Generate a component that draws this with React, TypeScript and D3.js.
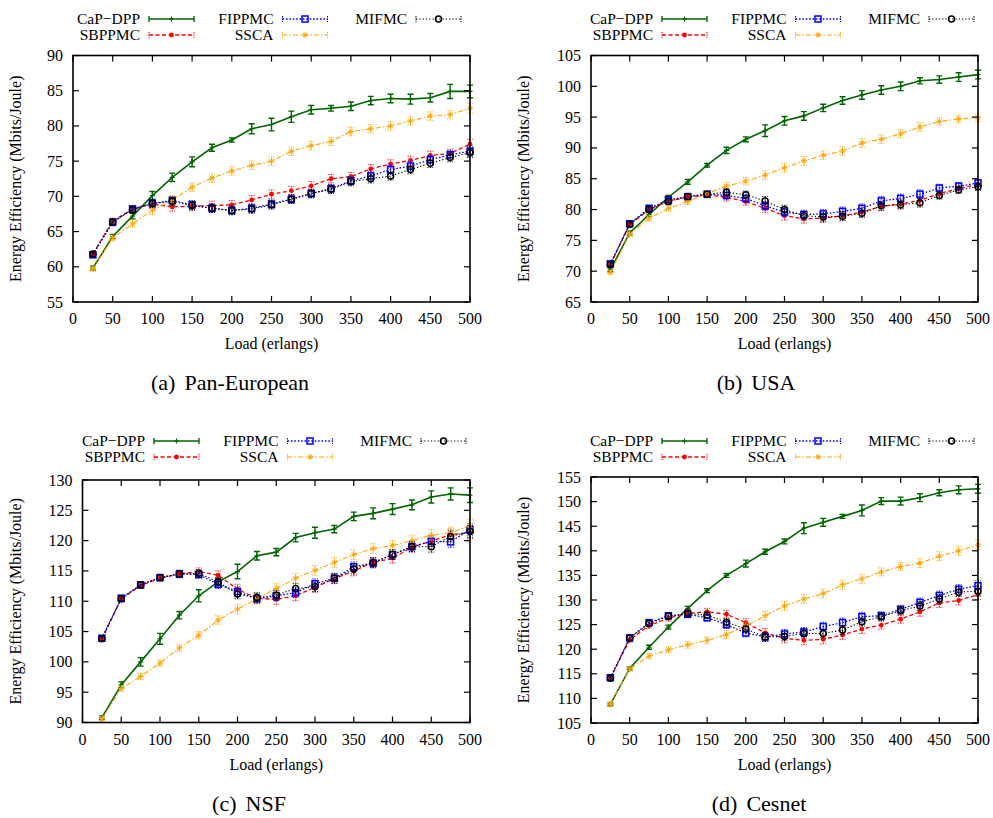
import React from 'react';
import * as d3 from 'd3';

// Offered load (erlangs)
const loads = [25, 50, 75, 100, 125, 150, 175, 200, 225, 250, 275, 300, 325, 350, 375, 400, 425, 450, 475, 500];
const xTicks = [0, 50, 100, 150, 200, 250, 300, 350, 400, 450, 500];

// (a) Pan-European
const panCapDpp = [59.8, 64.3, 67.2, 70.1, 72.7, 74.9, 76.9, 78.0, 79.6, 80.2, 81.3, 82.3, 82.5, 82.8, 83.6, 83.9, 83.8, 84.0, 84.9, 84.9];
const panSbppmc = [61.8, 66.5, 68.2, 68.9, 68.5, 68.6, 68.7, 68.8, 69.5, 70.3, 70.8, 71.5, 72.5, 72.8, 73.9, 74.6, 75.1, 75.8, 76.1, 77.4];
const panFippmc = [61.7, 66.3, 68.2, 69.0, 69.4, 68.8, 68.3, 68.0, 68.3, 68.9, 69.6, 70.4, 71.1, 72.2, 72.9, 73.8, 74.3, 75.2, 75.9, 76.4];
const panSsca = [59.7, 64.1, 66.1, 68.0, 69.5, 71.3, 72.6, 73.6, 74.4, 75.0, 76.4, 77.2, 77.8, 79.2, 79.6, 80.0, 80.7, 81.4, 81.6, 82.5];
const panMifmc = [61.8, 66.4, 68.1, 69.0, 69.3, 68.7, 68.3, 68.0, 68.2, 68.8, 69.6, 70.4, 71.0, 72.1, 72.5, 72.9, 73.8, 74.7, 75.5, 76.2];
const panCapErr = [0.3, 0.3, 0.4, 0.6, 0.6, 0.7, 0.5, 0.3, 0.7, 0.9, 0.8, 0.6, 0.4, 0.6, 0.6, 0.6, 0.7, 0.6, 1.0, 0.9];
const panOtherErr = [0.3, 0.4, 0.5, 0.6, 0.6, 0.6, 0.6, 0.6, 0.6, 0.6, 0.6, 0.6, 0.6, 0.6, 0.6, 0.6, 0.6, 0.6, 0.6, 0.7];

// (b) USA
const usaCapDpp = [70.2, 76.2, 79.2, 82.0, 84.5, 87.2, 89.6, 91.4, 92.8, 94.4, 95.2, 96.5, 97.7, 98.6, 99.4, 100.0, 100.9, 101.1, 101.5, 101.9];
const usaSbppmc = [71.1, 77.6, 80.0, 81.4, 82.0, 82.4, 82.0, 81.3, 80.2, 79.0, 78.5, 78.6, 79.0, 79.6, 80.5, 80.9, 81.5, 82.6, 83.4, 84.1];
const usaFippmc = [71.2, 77.7, 80.2, 81.6, 82.1, 82.5, 82.3, 81.8, 80.6, 79.6, 79.2, 79.3, 79.7, 80.2, 81.4, 81.8, 82.5, 83.5, 83.8, 84.3];
const usaSsca = [69.8, 76.0, 78.6, 80.2, 81.3, 82.6, 83.8, 84.6, 85.6, 86.8, 87.9, 88.8, 89.5, 90.8, 91.4, 92.3, 93.4, 94.3, 94.7, 94.9];
const usaMifmc = [71.1, 77.6, 80.0, 81.3, 82.1, 82.5, 82.8, 82.4, 81.4, 80.0, 79.0, 78.8, 78.9, 79.4, 80.6, 80.8, 81.1, 82.3, 83.2, 83.7];
const usaCapErr = [0.3, 0.3, 0.3, 0.3, 0.4, 0.3, 0.5, 0.4, 0.95, 0.7, 0.7, 0.6, 0.6, 0.7, 0.7, 0.7, 0.5, 0.6, 0.7, 0.7];
const usaOtherErr = [0.3, 0.4, 0.5, 0.5, 0.5, 0.5, 0.6, 0.6, 0.7, 0.7, 0.7, 0.7, 0.7, 0.7, 0.7, 0.7, 0.7, 0.6, 0.6, 0.6];

// (c) NSF
const nsfCapDpp = [90.8, 96.2, 100.0, 103.8, 107.7, 110.9, 113.2, 114.9, 117.5, 118.1, 120.5, 121.3, 121.9, 124.0, 124.5, 125.2, 125.9, 127.2, 127.7, 127.5];
const nsfSbppmc = [103.8, 110.4, 112.6, 113.8, 114.5, 114.9, 114.3, 112.0, 110.5, 110.3, 110.9, 112.3, 113.7, 115.0, 116.4, 117.1, 118.9, 119.9, 121.0, 121.3];
const nsfFippmc = [103.9, 110.5, 112.7, 113.9, 114.5, 114.4, 112.8, 111.6, 110.4, 110.9, 111.4, 112.9, 113.8, 115.7, 116.3, 117.7, 119.0, 119.9, 119.8, 121.8];
const nsfSsca = [90.6, 95.6, 97.6, 99.8, 102.3, 104.4, 106.9, 108.7, 110.4, 112.1, 113.8, 115.1, 116.4, 117.7, 118.7, 119.2, 120.0, 120.9, 121.3, 122.5];
const nsfMifmc = [103.8, 110.4, 112.7, 113.9, 114.5, 114.6, 113.2, 111.2, 110.6, 111.0, 112.1, 112.4, 113.8, 115.3, 116.4, 117.7, 119.0, 119.0, 120.7, 121.5];
const nsfCapErr = [0.3, 0.5, 0.7, 0.9, 0.6, 1.0, 0.6, 1.2, 0.7, 0.6, 0.7, 0.9, 0.6, 0.7, 0.9, 0.9, 0.8, 1.0, 1.0, 1.2];
const nsfOtherErr = [0.4, 0.5, 0.5, 0.5, 0.6, 0.6, 0.7, 0.8, 0.8, 0.8, 0.8, 0.8, 0.8, 0.8, 0.8, 0.8, 0.8, 0.9, 0.9, 1.0];

// (d) Cesnet
const cesCapDpp = [108.8, 116.1, 120.4, 124.5, 128.3, 131.9, 135.0, 137.4, 139.8, 141.9, 144.6, 145.8, 147.0, 148.2, 150.1, 150.1, 150.8, 151.8, 152.4, 152.6];
const cesSbppmc = [114.1, 121.9, 124.8, 126.3, 127.3, 127.6, 127.1, 125.4, 123.3, 122.2, 121.8, 122.0, 122.9, 124.1, 124.9, 126.1, 127.6, 129.4, 129.9, 131.1];
const cesFippmc = [114.2, 122.3, 125.4, 126.8, 127.1, 126.4, 125.0, 123.3, 122.5, 123.1, 123.5, 124.6, 125.4, 126.6, 126.8, 128.1, 129.5, 130.9, 132.2, 132.9];
const cesSsca = [108.8, 116.0, 118.6, 119.9, 120.9, 121.8, 123.0, 124.7, 126.8, 128.8, 130.2, 131.3, 133.1, 134.3, 135.7, 136.8, 137.5, 138.9, 140.0, 141.2];
const cesMifmc = [114.1, 122.3, 125.2, 126.7, 127.3, 126.9, 125.5, 124.1, 122.5, 122.6, 123.2, 123.2, 123.9, 125.6, 126.6, 127.8, 128.8, 130.2, 131.6, 131.8];
const cesCapErr = [0.3, 0.3, 0.4, 0.4, 0.4, 0.4, 0.4, 0.7, 0.5, 0.5, 1.1, 0.8, 0.4, 1.1, 0.7, 0.8, 0.8, 0.6, 0.8, 0.9];
const cesOtherErr = [0.4, 0.5, 0.6, 0.6, 0.7, 0.7, 0.8, 0.8, 0.9, 0.9, 0.9, 0.9, 0.9, 0.9, 0.8, 0.8, 0.9, 0.9, 0.9, 1.0];

const seriesNames = ['CaP−DPP', 'SBPPMC', 'FIPPMC', 'SSCA', 'MIFMC'];

// drawing style per series, in gnuplot plot order
const styles = [
  { color: '#006400', dash: '', width: 1.6, marker: 'plus', col: 0, row: 0 },
  { color: '#ff0000', dash: '4,2.5', width: 1.3, marker: 'dot', col: 0, row: 1 },
  { color: '#0000ff', dash: '1.6,1.8', width: 1.3, marker: 'square', col: 1, row: 0 },
  { color: '#ffa500', dash: '5,2,1.5,2', width: 1.1, marker: 'star', col: 1, row: 1 },
  { color: '#000000', dash: '1.3,2', width: 1.1, marker: 'circle', col: 2, row: 0 },
];

const panels = [
  {
    id: 'a', name: 'Pan-European', yDomain: [55, 90], yStep: 5,
    series: [panCapDpp, panSbppmc, panFippmc, panSsca, panMifmc], capErr: panCapErr, otherErr: panOtherErr,
    left: 73, right: 470, top: 55.5, bottom: 302, legendX: 140, legendY: 19, captionX: 230, captionY: 390, yLabelX: 16,
  },
  {
    id: 'b', name: 'USA', yDomain: [65, 105], yStep: 5,
    series: [usaCapDpp, usaSbppmc, usaFippmc, usaSsca, usaMifmc], capErr: usaCapErr, otherErr: usaOtherErr,
    left: 591, right: 978, top: 55.5, bottom: 302, legendX: 653, legendY: 19, captionX: 756, captionY: 390, yLabelX: 524,
  },
  {
    id: 'c', name: 'NSF', yDomain: [90, 130], yStep: 5,
    series: [nsfCapDpp, nsfSbppmc, nsfFippmc, nsfSsca, nsfMifmc], capErr: nsfCapErr, otherErr: nsfOtherErr,
    left: 82.5, right: 470, top: 480, bottom: 722.5, legendX: 145, legendY: 441, captionX: 249, captionY: 811, yLabelX: 16,
  },
  {
    id: 'd', name: 'Cesnet', yDomain: [105, 155], yStep: 5,
    series: [cesCapDpp, cesSbppmc, cesFippmc, cesSsca, cesMifmc], capErr: cesCapErr, otherErr: cesOtherErr,
    left: 591, right: 978, top: 477, bottom: 723, legendX: 653, legendY: 441, captionX: 759, captionY: 811, yLabelX: 524,
  },
];

const FONT = '"Liberation Serif", "Times New Roman", serif';

function Marker({ kind, x, y, color }: { kind: string; x: number; y: number; color: string }) {
  if (kind === 'plus') {
    return <path d={`M${x - 2.5},${y}H${x + 2.5}M${x},${y - 2.5}V${y + 2.5}`} stroke={color} strokeWidth={1.2} />;
  }
  if (kind === 'dot') return <circle cx={x} cy={y} r={2.4} fill={color} />;
  if (kind === 'square') {
    return <rect x={x - 3} y={y - 3} width={6} height={6} fill="none" stroke={color} strokeWidth={1.5} />;
  }
  if (kind === 'star') {
    return (
      <path
        d={`M${x - 3},${y}H${x + 3}M${x},${y - 3}V${y + 3}M${x - 2.2},${y - 2.2}L${x + 2.2},${y + 2.2}M${x - 2.2},${y + 2.2}L${x + 2.2},${y - 2.2}`}
        stroke={color}
        strokeWidth={1}
      />
    );
  }
  return <circle cx={x} cy={y} r={3} fill="none" stroke={color} strokeWidth={1.5} />;
}

function Panel({ p }: { p: (typeof panels)[number] }) {
  const x = d3.scaleLinear().domain([0, 500]).range([p.left, p.right]);
  const y = d3.scaleLinear().domain(p.yDomain).range([p.bottom, p.top]);
  const yTicks = d3.range(p.yDomain[0], p.yDomain[1] + 0.1, p.yStep);
  const line = d3
    .line<number>()
    .x((_, i) => x(loads[i]))
    .y((v) => y(v));
  const tick = 6;
  const capW = 3;

  return (
    <g>
      {/* series */}
      {p.series.map((vals, si) => {
        const st = styles[si];
        const err = si === 0 ? p.capErr : p.otherErr;
        return (
          <g key={si}>
            <path d={line(vals) || ''} fill="none" stroke={st.color} strokeWidth={st.width} strokeDasharray={st.dash || undefined} />
            {vals.map((v, i) => {
              const cx = x(loads[i]);
              const y1 = y(v - err[i]);
              const y2 = y(v + err[i]);
              return (
                <g key={i}>
                  <path
                    d={`M${cx},${y1}V${y2}M${cx - capW},${y1}H${cx + capW}M${cx - capW},${y2}H${cx + capW}`}
                    stroke={st.color}
                    strokeWidth={si === 0 ? 1.4 : 1}
                    strokeDasharray={si === 0 ? undefined : '1.5,1'}
                    fill="none"
                    opacity={si === 0 ? 1 : 0.8}
                  />
                  <Marker kind={st.marker} x={cx} y={y(v)} color={st.color} />
                </g>
              );
            })}
          </g>
        );
      })}

      {/* frame and ticks */}
      <rect x={p.left} y={p.top} width={p.right - p.left} height={p.bottom - p.top} fill="none" stroke="#000" strokeWidth={1.6} />
      {xTicks.map((t) => (
        <g key={`x${t}`}>
          <line x1={x(t)} x2={x(t)} y1={p.bottom} y2={p.bottom - tick} stroke="#000" strokeWidth={1.2} />
          <line x1={x(t)} x2={x(t)} y1={p.top} y2={p.top + tick} stroke="#000" strokeWidth={1.2} />
          <text x={x(t)} y={p.bottom + 22} textAnchor="middle" fontSize={16} fontFamily={FONT}>
            {t}
          </text>
        </g>
      ))}
      {yTicks.map((t) => (
        <g key={`y${t}`}>
          <line x1={p.left} x2={p.left + tick} y1={y(t)} y2={y(t)} stroke="#000" strokeWidth={1.2} />
          <line x1={p.right} x2={p.right - tick} y1={y(t)} y2={y(t)} stroke="#000" strokeWidth={1.2} />
          <text x={p.left - 10} y={y(t) + 5.5} textAnchor="end" fontSize={16} fontFamily={FONT}>
            {t}
          </text>
        </g>
      ))}

      {/* axis labels */}
      <text x={(p.left + p.right) / 2} y={p.bottom + 47} textAnchor="middle" fontSize={16} fontFamily={FONT}>
        Load (erlangs)
      </text>
      <text
        transform={`translate(${p.yLabelX + 5},${(p.top + p.bottom) / 2}) rotate(-90)`}
        textAnchor="middle"
        fontSize={16}
        fontFamily={FONT}
      >
        Energy Efficiency (Mbits/Joule)
      </text>

      {/* legend */}
      {styles.map((st, si) => {
        const tx = p.legendX + st.col * 133.5;
        const ly = p.legendY + st.row * 16;
        const x0 = tx + 9;
        const x1 = tx + 54;
        return (
          <g key={`l${si}`}>
            <text x={tx} y={ly + 5} textAnchor="end" fontSize={15.5} fontFamily={FONT}>
              {seriesNames[si]}
            </text>
            <path d={`M${x0},${ly}H${x1}`} stroke={st.color} strokeWidth={st.width} strokeDasharray={st.dash || undefined} />
            <path
              d={`M${x0},${ly - 3}V${ly + 3}M${x1},${ly - 3}V${ly + 3}`}
              stroke={st.color}
              strokeWidth={si === 0 ? 1.4 : 1}
              strokeDasharray={si === 0 ? undefined : '1.5,1'}
            />
            <Marker kind={st.marker} x={(x0 + x1) / 2} y={ly} color={st.color} />
          </g>
        );
      })}

      {/* caption */}
      <text x={p.captionX} y={p.captionY} textAnchor="middle" fontSize={22} fontFamily={FONT}>
        ({p.id})<tspan dx={9}>{p.name}</tspan>
      </text>
    </g>
  );
}

export default function App() {
  return (
    <svg width={993} height={818} style={{ position: 'absolute', left: 0, top: 0, background: '#fff' }}>
      <rect width={993} height={818} fill="#fff" />
      {panels.map((p) => (
        <Panel key={p.id} p={p} />
      ))}
    </svg>
  );
}
